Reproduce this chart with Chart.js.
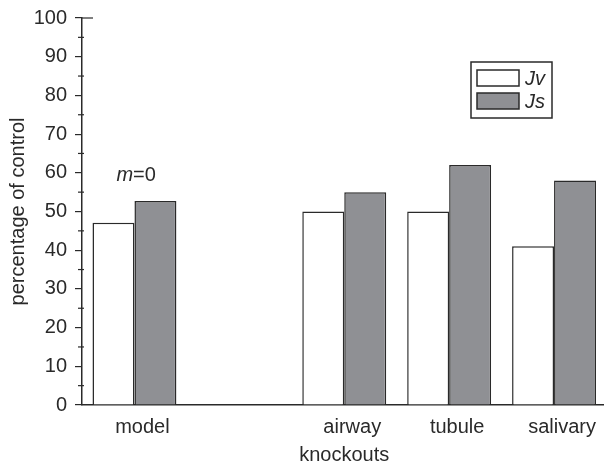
<!DOCTYPE html>
<html>
<head>
<meta charset="utf-8">
<script src="https://cdn.jsdelivr.net/npm/chart.js@4/dist/chart.umd.min.js"></script>
<style>
  html, body { margin: 0; padding: 0; background: #fff; overflow: hidden; }
  #wrap { width: 612px; height: 467px; }
</style>
</head>
<body>
<div id="wrap"><canvas id="graph"></canvas></div>
<script>
const categories = ['model', '', 'airway', 'tubule', 'salivary'];
const jvValues = [47.1, null, 50, 50, 41];
const jsValues = [52.7, null, 55, 62, 58];
const yTicks = [0, 10, 20, 30, 40, 50, 60, 70, 80, 90, 100];

const font = 'Liberation Sans, Arial, sans-serif';
const ink = '#2a2a2a';

// minor ticks + legend box + the m=0 note
const extras = {
    id: 'extras',
    afterDraw(chart) {
        const ctx = chart.ctx;
        const y = chart.scales.y;
        const x = chart.scales.x;
        const left = chart.chartArea.left;
        ctx.save();
        ctx.strokeStyle = ink;
        ctx.lineWidth = 1.2;
        for (let i = 0; i < yTicks.length - 1; i++) {
            const py = y.getPixelForValue((yTicks[i] + yTicks[i + 1]) / 2);
            ctx.beginPath();
            ctx.moveTo(left - 4, py);
            ctx.lineTo(left + 2, py);
            ctx.stroke();
        }
        const top = y.getPixelForValue(100);
        ctx.beginPath();
        ctx.moveTo(left, top);
        ctx.lineTo(left + 11, top);
        ctx.stroke();

        // legend
        const bx = 471, by = 62;
        ctx.lineWidth = 1.5;
        ctx.strokeRect(bx, by, 81, 56);
        chart.data.datasets.forEach(function (ds, i) {
            const sy = by + 8 + i * 23;
            ctx.fillStyle = ds.backgroundColor;
            ctx.fillRect(bx + 6, sy, 42, 16);
            ctx.strokeStyle = ink;
            ctx.strokeRect(bx + 6, sy, 42, 16);
            ctx.fillStyle = ink;
            ctx.font = 'italic 20px ' + font;
            ctx.textBaseline = 'middle';
            ctx.fillText(ds.label, bx + 54, sy + 9);
        });

        // m=0
        const mx = x.getPixelForValue(0) - 18;
        const my = y.getPixelForValue(58);
        ctx.fillStyle = ink;
        ctx.textBaseline = 'alphabetic';
        ctx.font = 'italic 20px ' + font;
        ctx.fillText('m', mx, my);
        const w = ctx.measureText('m').width;
        ctx.font = '20px ' + font;
        ctx.fillText('=0', mx + w, my);
        ctx.restore();
    }
};

const context = document.getElementById('graph');
new Chart(context, {
    type: 'bar',
    data: {
        labels: categories,
        datasets: [
            {
                label: 'Jv',
                data: jvValues,
                backgroundColor: '#ffffff',
                borderColor: ink,
                borderWidth: 1.5,
                borderSkipped: 'bottom'
            },
            {
                label: 'Js',
                data: jsValues,
                backgroundColor: '#8f9094',
                borderColor: ink,
                borderWidth: 1.5,
                borderSkipped: 'bottom'
            }
        ]
    },
    options: {
        responsive: true,
        maintainAspectRatio: false,
        animation: false,
        devicePixelRatio: 1,
        categoryPercentage: 0.8,
        barPercentage: 1.0,
        layout: { padding: { top: 18, right: 5.5, left: 0, bottom: 0 } },
        plugins: {
            legend: { display: false },
            tooltip: { enabled: false }
        },
        scales: {
            x: {
                grid: { display: false },
                border: { color: ink, width: 1.5 },
                ticks: { color: ink, font: { family: font, size: 20 }, padding: 2, labelOffset: 8 },
                title: { display: true, text: 'knockouts', color: ink, font: { family: font, size: 20 }, padding: { top: 2, bottom: 0 } },
                afterFit: function (s) { s.height = 62; }
            },
            y: {
                min: 0,
                max: 100,
                afterBuildTicks: function (s) { s.ticks = yTicks.map(v => ({ value: v })); },
                grid: { drawOnChartArea: false, drawTicks: true, tickLength: 7, color: ink, lineWidth: 1.2 },
                border: { color: ink, width: 1.5 },
                ticks: { color: ink, font: { family: font, size: 20 }, padding: 8 },
                title: { display: true, text: 'percentage of control', color: ink, font: { family: font, size: 20 }, padding: { top: 6, bottom: 0 } },
                afterFit: function (s) { s.width = 82; s.paddingTop = 0; s.paddingBottom = 0; }
            }
        }
    },
    plugins: [extras]
});
</script>
</body>
</html>
